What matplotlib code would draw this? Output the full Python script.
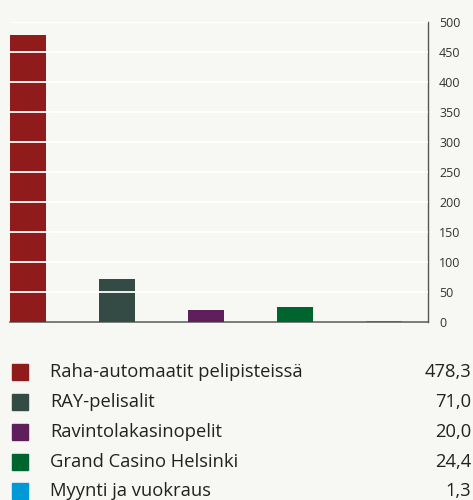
import matplotlib
matplotlib.use("Agg")
import matplotlib.pyplot as plt
from matplotlib.patches import Rectangle

categories = ["Raha-automaatit pelipisteissä", "RAY-pelisalit", "Ravintolakasinopelit",
              "Grand Casino Helsinki", "Myynti ja vuokraus"]
values = [478.3, 71.0, 20.0, 24.4, 1.3]
bar_colors = ["#8f1c1a", "#344a45", "#5f1f5a", "#00642f", "#1a78a8"]
legend_colors = ["#8f1c1a", "#344a45", "#5f1f5a", "#00642f", "#0099d8"]
yticks = [0, 50, 100, 150, 200, 250, 300, 350, 400, 450, 500]

plt.rcParams['font.family'] = ['Open Sans', 'DejaVu Sans']
bg = "#f7f7f3"
fig = plt.figure(figsize=(4.73, 5.00), dpi=100, facecolor=bg)
ax = fig.add_axes([10/473, 0.356, 418/473, 0.6])
ax.set_facecolor(bg)

x = list(range(len(values)))
ax.bar(x, values, width=0.404, color=bar_colors, zorder=2)
ax.set_xlim(-0.202, 4.494)
ax.set_ylim(0, 500)
for t in yticks[1:]:
    ax.axhline(t, color="white", lw=1.3, zorder=3)

for s in ["top", "left"]:
    ax.spines[s].set_visible(False)
ax.spines["bottom"].set_color("#666666")
ax.spines["bottom"].set_linewidth(1.2)
ax.spines["bottom"].set_zorder(1.5)
ax.spines["right"].set_color("#555555")
ax.spines["right"].set_linewidth(1.0)
ax.yaxis.tick_right()
ax.set_yticks(yticks)
ax.set_yticklabels([str(t) for t in yticks])
ax.tick_params(axis="y", length=0, pad=8, labelsize=9, labelcolor="#333333")
ax.set_xticks([])

row_y = [372, 402, 432, 462, 491]
for cat, v, c, yy in zip(categories, values, legend_colors, row_y):
    yf = 1 - yy/500
    fig.patches.append(Rectangle((12/473, yf - 8/500), 16/473, 16/500,
                                 transform=fig.transFigure, color=c, figure=fig))
    fig.text(50/473, yf, cat, fontsize=13.2, color="#222222", va="center", ha="left")
    fig.text(471/473, yf, f"{v:.1f}".replace(".", ","), fontsize=13.2,
             color="#222222", va="center", ha="right")

fig.savefig("out.png", dpi=100, facecolor=bg)
